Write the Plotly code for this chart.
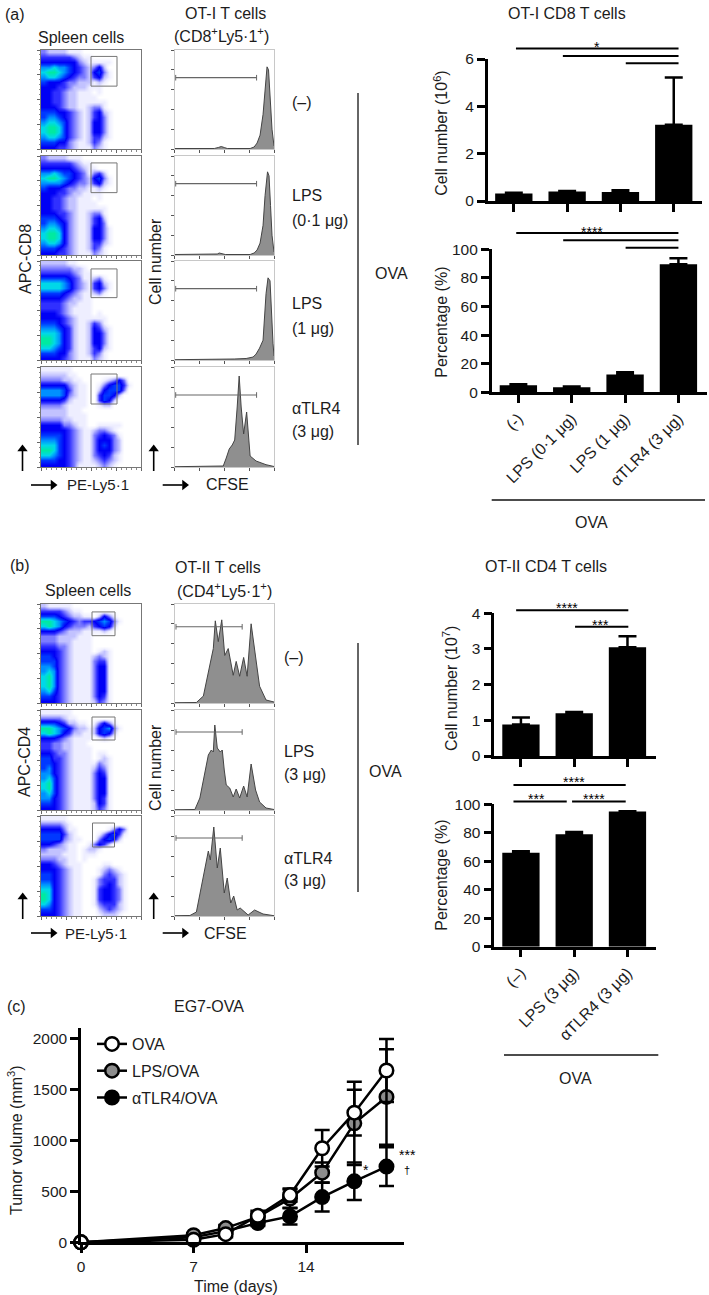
import plotly.graph_objects as go

W, H = 709, 1295
FONT = "Liberation Sans"
INK = "#1c1c1c"

# ---------- flow cytometry density grids (levels 0-9 read by eye, top row first) ----------
flow_a1 = ["32222111000000000000","44444432110000000000","55555553211111000000","77877654323520000000",
"89987654325631000000","78876543324521000000","65554332221210000000","55544322211100000000",
"55443221110100000000","55443221111000000000","55443221111110000000","55543221123310000000",
"66655432124521000000","67765432124531000000","78876432125531000000","89986432125531000000",
"89986432125531000000","78876432124421000000","66655321124310000000","55544321113210000000"]
flow_a2 = ["32222111000000000000","44444432110000000000","55555543211000000000","77876654313420000000",
"89987654325631000000","77776543324521000000","65554332211210000000","55544322111100000000",
"55443221110100000000","55443221111000000000","55443221111110000000","55544321123310000000",
"66654321124520000000","67765321124530000000","78875321125531000000","89985321125531000000",
"89985321125531000000","78875321124421000000","66654321124310000000","55544321113210000000"]
flow_a3 = ["22222110000000000000","33333322100000000000","44444432110000000000","66666543112310000000",
"88887643214521000000","88887643214531000000","66665432112310000000","55554322110000000000",
"44443221110000000000","44443211110000000000","55543211110100000000","55554321111110000000",
"66654321124310000000","77765421125421000000","88875421125531000000","99875421125531000000",
"99875421125531000000","88765421124521000000","66655321124310000000","55554321113210000000"]
flow_a4 = ["11111100000000000000","22222110000000000000","33332211000012353000","55555321100135664100",
"77776421100256663000","77776321100466520000","55554211100465200000","33332111100122000000",
"22222111000000000000","22222111100000000000","33332211100000000000","55553321100111110000",
"55555432112332100000","66665432113454310000","77765432113555320000","88865432113565320000",
"99865432113555320000","88765432113454210000","66655432112343210000","55555431111232100000"]
flow_b1 = ["21111100000000000000","44443211000000000000","66654322110253100000","99876543445676310000",
"89875433324565200000","55543222111121000000","33322221110000000000","33322211110000000000",
"44433211110000000000","55543211110121000000","66543211112321000000","66643211113441000000",
"77643211113551000000","78743211113551000000","89743211113551000000","89743211113551000000",
"89743211113551000000","78643211113551000000","66543211113541000000","55543211112431000000"]
flow_b2 = ["11111100000000000000","33332110000000000000","66654221101353100000","99876532212567310000",
"89875422112565200000","55543211110121000000","44332211100000000000","44332211110000000000",
"55433211110110000000","66443211110121000000","66543211111321000000","67543211112431000000",
"77543211113541000000","78643211113551000000","89643211113551000000","89643211113551000000",
"78643211113551000000","77543211113541000000","66543211112541000000","55543211112431000000"]
flow_b3 = ["11111000000000000000","33332100000000000000","55553110000001353000","66664210000135641000",
"66663211000356520000","55432110013542000000","32222110122100000000","22221110111000000000",
"33322110100000000000","55432111000011000000","55543211000123210000","66543211000134321000",
"66543211001344421000","77543211001345421000","88543211001455431000","98543211001455431000",
"98543211001455431000","87543211001344421000","66543211000234321000","55543211000122210000"]
grid_x = [2.5,7.5,12.5,17.5,22.5,27.5,32.5,37.5,42.5,47.5,52.5,57.5,62.5,67.5,72.5,77.5,82.5,87.5,92.5,97.5]
grid_y = [97.5,92.5,87.5,82.5,77.5,72.5,67.5,62.5,57.5,52.5,47.5,42.5,37.5,32.5,27.5,22.5,17.5,12.5,7.5,2.5]

# gates: x0, x1, y0, y1 in panel units
gate_a1 = [50, 76, 63.5, 93.5]
gate_a2 = [50, 76, 63, 93]
gate_a3 = [50, 76, 63, 92]
gate_a4 = [50, 76, 63, 93]
gate_b1 = [51, 74, 68, 92]
gate_b2 = [51, 74, 70, 93]
gate_b3 = [51.5, 73.5, 69, 93]

# ---------- CFSE histograms ----------
hx_a1 = [0,40,44,47,50,53,76,80,83,86,89,91,93,94.5,96,98,100]
hy_a1 = [0.5,0.5,1.5,2.5,1.5,0.5,0.5,2,6,14,35,62,83,80,50,20,3]
hx_a2 = [0,40,43,45,48,51,76,80,83,86,89,91,93.5,95,96.5,98,100]
hy_a2 = [0.5,0.5,1,2,1,0.5,0.5,2,5,12,30,60,84,80,50,20,3]
hx_a3 = [0,42,60,72,79,82,85.5,89,92,94,96,99,100]
hy_a3 = [0.3,0.5,1,1.5,3,6,12,20,67,83,80,17,4]
hx_a4 = [0,40,49,52,55,58,60.5,63,65,67,69.5,72.5,74,76,82,92,100]
hy_a4 = [0.3,0.5,1,9,18,22,27,60,91,60,33,55,35,11,6,2.3,0.5]
hx_b1 = [0,22,29,34,36,39,41,44,47.5,50.5,54,59,62,65.5,69.5,73,77,81.5,85.5,92,100]
hy_b1 = [0.3,0.5,7,30,42,55,83,62,84,48,55,28,42,27,46,27,80,48,17,3,1]
hx_b2 = [0,20.5,25.5,30,34,37,39,40.5,43,46,48,50,52,55.5,59,62,65.5,69.5,73,77,81.5,85.5,92,100]
hy_b2 = [0.3,0.5,12,35,55,60,58,85,62,58,60,40,25,22,13,21,12,24,13,46,20,8,2,0.5]
hx_b3 = [0,15.5,22,29,34,36,39.5,43,46,50,53,56.5,59.5,63,66,74,80.5,89,100]
hy_b3 = [0.3,0.5,4,39,65,56,89,48,68,23,38,13,20,6,8,1,6,2,0.3]
# gate markers: x0, x1, height
bar_a1 = [1.2, 82.5, 72]
bar_a2 = [1.2, 82.5, 72]
bar_a3 = [1.2, 82.5, 72]
bar_a4 = [1.2, 82.5, 72]
bar_b1 = [1.5, 68, 77]
bar_b2 = [1.5, 68, 78]
bar_b3 = [1.5, 68, 78]

# ---------- bar charts ----------
cat_a = ["(-)", "LPS (0·1 μg)", "LPS (1 μg)", "αTLR4 (3 μg)"]
cat_b = ["(–)", "LPS (3 μg)", "αTLR4 (3 μg)"]
cells_a = [0.32, 0.40, 0.38, 3.22]
cells_a_err = [0.03, 0.02, 0.07, 2.00]
pct_a = [5.0, 3.5, 12.5, 89.5]
pct_a_err = [0.7, 0.5, 1.5, 4.2]
cells_b = [0.88, 1.20, 3.05]
cells_b_err = [0.20, 0.03, 0.31]
pct_b = [66, 79, 95]
pct_b_err = [1.0, 1.5, 0.2]
# significance lines: x0, x1, y
sig_a_cells = [[0.04, 3.09, 6.44], [0.92, 3.09, 6.13], [2.10, 3.09, 5.82]]
sig_a_pct = [[-0.04, 3.0, 111.4], [0.84, 3.0, 106.3], [2.01, 3.0, 101.1]]
sig_b_cells = [[-0.09, 2.016, 4.085], [1.016, 2.016, 3.625]]
sig_b_pct = [[-0.14, 1.967, 113.6], [-0.14, 0.86, 102], [0.96, 1.967, 102]]

# ---------- tumour growth ----------
days = [0, 7, 9, 11, 13, 15, 17, 19]
ova = [0, 25, 80, 260, 465, 925, 1275, 1690]
ova_err = [0, 15, 30, 50, 65, 180, 225, 310]
lps = [0, 70, 140, 250, 430, 685, 1170, 1430]
lps_err = [0, 20, 30, 40, 90, 100, 410, 470]
tlr = [0, 50, 110, 190, 255, 445, 600, 745]
tlr_err = [0, 15, 20, 30, 80, 142, 185, 190]

fig = go.Figure()
ax_n = [0]

def fx(p): return p / W
def fy(p): return 1 - p / H

def new_axes(x0, x1, y0, y1, xopt, yopt):
    ax_n[0] += 1
    n = ax_n[0]
    s = "" if n == 1 else str(n)
    xopt = dict(xopt, domain=[fx(x0), fx(x1)], anchor="y" + s)
    yopt = dict(yopt, domain=[fy(y1), fy(y0)], anchor="x" + s)
    fig.layout["xaxis" + s] = xopt
    fig.layout["yaxis" + s] = yopt
    return "x" + s, "y" + s

scale = [[0, "#ffffff"], [1/9, "#eeeeff"], [2/9, "#c2c2ff"], [3/9, "#7c7cff"], [4/9, "#3030ff"],
         [5/9, "#0000f5"], [6/9, "#0038ff"], [7/9, "#0090ff"], [8/9, "#00d8e8"], [1, "#00eaa0"]]

def flow_panel(y0, y1, grid, gate):
    base = dict(range=[0, 100], showgrid=False, zeroline=False, showline=True, mirror=True, linecolor="#777777",
                linewidth=1, ticks="outside", ticklen=3, tickwidth=1, tickcolor="#666666", dtick=25, showticklabels=False,
                minor=dict(dtick=5, ticklen=1.5, ticks="outside", tickcolor="#888888"))
    xa, ya = new_axes(41, 141, y0, y1, base, base)
    fig.add_trace(go.Heatmap(x=grid_x, y=grid_y, z=[[int(c) for c in r] for r in grid], zmin=0, zmax=9, colorscale=scale,
                             showscale=False, zsmooth="best", xaxis=xa, yaxis=ya, hoverinfo="skip"))
    fig.add_trace(go.Scatter(x=[gate[0], gate[1], gate[1], gate[0], gate[0]], y=[gate[2], gate[2], gate[3], gate[3], gate[2]],
                             mode="lines", line=dict(color="#777777", width=1), xaxis=xa, yaxis=ya, showlegend=False, hoverinfo="skip"))

def hist_panel(y0, y1, hx, hy, bar):
    base = dict(range=[0, 100], showgrid=False, zeroline=False, showline=True, mirror=True, linecolor="#c8c8c8",
                linewidth=1, ticks="outside", ticklen=2.5, tickwidth=1, tickcolor="#555555", showticklabels=False)
    xa, ya = new_axes(174.5, 274, y0, y1, dict(base, dtick=25), dict(base, dtick=20))
    fig.add_trace(go.Scatter(x=hx, y=hy, mode="lines", fill="tozeroy", fillcolor="#8f8f8f", line=dict(color="#444444", width=1),
                             xaxis=xa, yaxis=ya, showlegend=False, hoverinfo="skip"))
    fig.add_trace(go.Scatter(x=[bar[0], bar[1]], y=[bar[2], bar[2]], mode="lines+markers",
                             line=dict(color="#666666", width=1.2),
                             marker=dict(symbol="line-ns", size=4, line=dict(color="#666666", width=1)),
                             xaxis=xa, yaxis=ya, showlegend=False, hoverinfo="skip"))

flow_panel(50, 149, flow_a1, gate_a1); hist_panel(50, 149, hx_a1, hy_a1, bar_a1)
flow_panel(156, 255, flow_a2, gate_a2); hist_panel(156, 255, hx_a2, hy_a2, bar_a2)
flow_panel(261, 360, flow_a3, gate_a3); hist_panel(261, 360, hx_a3, hy_a3, bar_a3)
flow_panel(367, 467, flow_a4, gate_a4); hist_panel(367, 467, hx_a4, hy_a4, bar_a4)
flow_panel(604, 703, flow_b1, gate_b1); hist_panel(604, 703, hx_b1, hy_b1, bar_b1)
flow_panel(710, 810, flow_b2, gate_b2); hist_panel(710, 810, hx_b2, hy_b2, bar_b2)
flow_panel(816, 916, flow_b3, gate_b3); hist_panel(816, 916, hx_b3, hy_b3, bar_b3)

AX = dict(showgrid=False, zeroline=False, showline=True, linecolor="#000000", linewidth=2.5, ticks="outside", ticklen=8,
          tickwidth=2.5, tickcolor="#000000", tickfont=dict(family=FONT, size=15.5, color=INK))

def bar_panel(x0, x1, y0, y1, xr, yr, dtick, cats, vals, errs, sigs, labels):
    n = list(range(len(cats)))
    xopt = dict(AX, range=xr, tickvals=n, tickangle=-45, showticklabels=labels,
                tickfont=dict(family=FONT, size=16, color=INK))
    if labels:
        xopt["ticktext"] = cats
    yopt = dict(AX, range=yr, dtick=dtick)
    xa, ya = new_axes(x0, x1, y0, y1, xopt, yopt)
    fig.add_trace(go.Bar(x=n, y=vals, width=0.7, marker=dict(color="#000000", line=dict(width=0)),
                         error_y=dict(type="data", array=errs, arrayminus=[0] * len(errs), symmetric=False, thickness=2.5, width=9, color="#000000"),
                         xaxis=xa, yaxis=ya, showlegend=False, hoverinfo="skip", cliponaxis=False))
    # invisible twin of the value axis with the same scale, reaching above the drawn axis for the significance lines
    ax_n[0] += 1
    s = str(ax_n[0])
    stretch = 1.25
    fig.layout["yaxis" + s] = dict(range=[yr[0], yr[1] * stretch], domain=[fy(y1), fy(y1 - (y1 - y0) * stretch)],
                                   anchor=xa, visible=False, showgrid=False, zeroline=False)
    for b in sigs:
        fig.add_trace(go.Scatter(x=[b[0], b[1]], y=[b[2], b[2]], mode="lines", line=dict(color="#000000", width=2),
                                 xaxis=xa, yaxis="y" + s, showlegend=False, hoverinfo="skip", cliponaxis=False))

bar_panel(487.7, 702, 59, 201, [-0.49, 3.53], [0, 6], 2, cat_a, cells_a, cells_a_err, sig_a_cells, False)
bar_panel(491.7, 706.7, 249.3, 392.3, [-0.5, 3.53], [0, 100], 20, cat_a, pct_a, pct_a_err, sig_a_pct, True)
bar_panel(494.3, 655.7, 613.3, 756, [-0.5, 2.53], [0, 4], 1, cat_b, cells_b, cells_b_err, sig_b_cells, False)
bar_panel(494.3, 655.7, 804.3, 946.7, [-0.5, 2.53], [0, 100], 20, cat_b, pct_b, pct_b_err, sig_b_pct, True)

xa, ya = new_axes(81, 404, 1028.3, 1242.3, dict(AX, range=[0, 20.09], tickvals=[0, 7, 14]), dict(AX, range=[0, 2105], tickvals=[0, 500, 1000, 1500, 2000]))
for name, vals, err, col, rank in [("αTLR4/OVA", tlr, tlr_err, "#000000", 3), ("LPS/OVA", lps, lps_err, "#8c8c8c", 2), ("OVA", ova, ova_err, "#ffffff", 1)]:
    fig.add_trace(go.Scatter(x=days, y=vals, name=name, legendgroup=name, legendrank=rank, mode="lines+markers", cliponaxis=False,
                             line=dict(color="#000000", width=2.5),
                             marker=dict(size=13.5, color=col, line=dict(color="#000000", width=2.5)),
                             error_y=dict(type="data", array=err, thickness=2.5, width=7.5, color="#000000"),
                             xaxis=xa, yaxis=ya, hoverinfo="skip"))

# full-page overlay for the small direction arrows of the cytometry panels
arrows_up = [[22.5, 471, 445], [153.7, 471, 445], [22.7, 919, 893], [153.7, 919, 893]]
arrows_right = [[31, 57, 485], [162.7, 188.5, 485], [31, 57, 933], [162.7, 188.5, 933]]
pa, pb = new_axes(0, W, 0, H, dict(range=[0, W], visible=False), dict(range=[H, 0], visible=False))
for a in arrows_up:
    fig.add_trace(go.Scatter(x=[a[0], a[0]], y=[a[1], a[2] + 6], mode="lines", line=dict(color="#000000", width=1.6), xaxis=pa, yaxis=pb, showlegend=False, hoverinfo="skip"))
    fig.add_trace(go.Scatter(x=[a[0]], y=[a[2] + 4], mode="markers", marker=dict(symbol="triangle-up", size=9, color="#000000", line=dict(width=0)), xaxis=pa, yaxis=pb, showlegend=False, hoverinfo="skip"))
for a in arrows_right:
    fig.add_trace(go.Scatter(x=[a[0], a[1] - 6], y=[a[2], a[2]], mode="lines", line=dict(color="#000000", width=1.6), xaxis=pa, yaxis=pb, showlegend=False, hoverinfo="skip"))
    fig.add_trace(go.Scatter(x=[a[1] - 4], y=[a[2]], mode="markers", marker=dict(symbol="triangle-right", size=9, color="#000000", line=dict(width=0)), xaxis=pa, yaxis=pb, showlegend=False, hoverinfo="skip"))

ann = []
def T(x, y, text, size=16, angle=0, anchor="center", color=INK):
    ann.append(dict(x=fx(x), y=fy(y), xref="paper", yref="paper", text=text, showarrow=False, textangle=angle,
                    xanchor=anchor, yanchor="middle", font=dict(family=FONT, size=size, color=color)))

def S(x, y, text, size=14):
    T(x, y + 3, text, size=size, color="#000000")

def vline(x0, y0, x1, y1, color="#333333", width=1.5):
    fig.add_shape(type="line", xref="paper", yref="paper", x0=fx(x0), x1=fx(x1), y0=fy(y0), y1=fy(y1), line=dict(color=color, width=width))

# panel (a)
T(15, 14, "(a)"); T(81, 37, "Spleen cells"); T(225, 13, "OT-I T cells"); T(221.7, 35, "(CD8<sup>+</sup>Ly5·1<sup>+</sup>)")
T(290, 102, "(–)", anchor="left"); T(290, 195, "LPS", anchor="left"); T(290, 220, "(0·1 μg)", anchor="left")
T(290, 303, "LPS", anchor="left"); T(290, 328, "(1 μg)", anchor="left")
T(290, 408, "αTLR4", anchor="left"); T(290, 432, "(3 μg)", anchor="left")
T(391, 273, "OVA"); T(26, 259, "APC-CD8", angle=-90); T(155, 262, "Cell number", angle=-90)
T(98, 485, "PE-Ly5·1", size=15); T(227.7, 485, "CFSE")
vline(358, 93, 358, 445)

T(566.7, 13, "OT-I CD8 T cells"); T(440.7, 133, "Cell number (10<sup>6</sup>)", angle=-90); T(440.7, 322, "Percentage (%)", angle=-90)
S(596.7, 44, "*"); S(592, 229, "****")
T(591.7, 522, "OVA"); vline(491.7, 500, 705, 500, color="#111111")

# panel (b)
T(20, 565, "(b)"); T(88, 590, "Spleen cells"); T(218, 567, "OT-II T cells"); T(224, 590, "(CD4<sup>+</sup>Ly5·1<sup>+</sup>)")
T(282, 657, "(–)", anchor="left"); T(282, 751, "LPS", anchor="left"); T(282, 774, "(3 μg)", anchor="left")
T(282, 858, "αTLR4", anchor="left"); T(282, 881, "(3 μg)", anchor="left")
T(385, 771, "OVA"); T(24, 762, "APC-CD4", angle=-90); T(155, 768, "Cell number", angle=-90)
T(96, 933, "PE-Ly5·1", size=15); T(225, 933, "CFSE")
vline(358, 643, 358, 892)

T(545.7, 566, "OT-II CD4 T cells"); T(450, 689, "Cell number (10<sup>7</sup>)", angle=-90); T(440.7, 875, "Percentage (%)", angle=-90)
S(567.3, 605, "****"); S(600.7, 621.7, "***")
S(574, 779.3, "****"); S(536.7, 796, "***"); S(594.3, 796, "****")
T(575, 1078, "OVA"); vline(504, 1055, 658.3, 1055, color="#111111")

# panel (c)
T(16.7, 1006, "(c)"); T(209, 1007, "EG7-OVA"); T(15, 1140, "Tumor volume (mm<sup>3</sup>)", angle=-90); T(236, 1286, "Time (days)")
S(366, 1167, "*"); S(407, 1152, "***"); T(407, 1170, "†", size=11, color="#000000")

fig.update_layout(width=W, height=H, margin=dict(l=0, r=0, t=0, b=0, autoexpand=False), paper_bgcolor="#ffffff", plot_bgcolor="rgba(0,0,0,0)",
                  annotations=ann, font=dict(family=FONT, size=16, color=INK), barmode="overlay",
                  legend=dict(x=fx(92), y=fy(1027), xanchor="left", yanchor="top", traceorder="grouped", tracegroupgap=3,
                              bgcolor="rgba(0,0,0,0)", font=dict(family=FONT, size=16, color=INK), itemwidth=30, itemclick=False, itemdoubleclick=False))
fig.write_html("out.html", config=dict(displayModeBar=False), post_script="document.body.style.margin='0';document.body.style.overflow='hidden';")
